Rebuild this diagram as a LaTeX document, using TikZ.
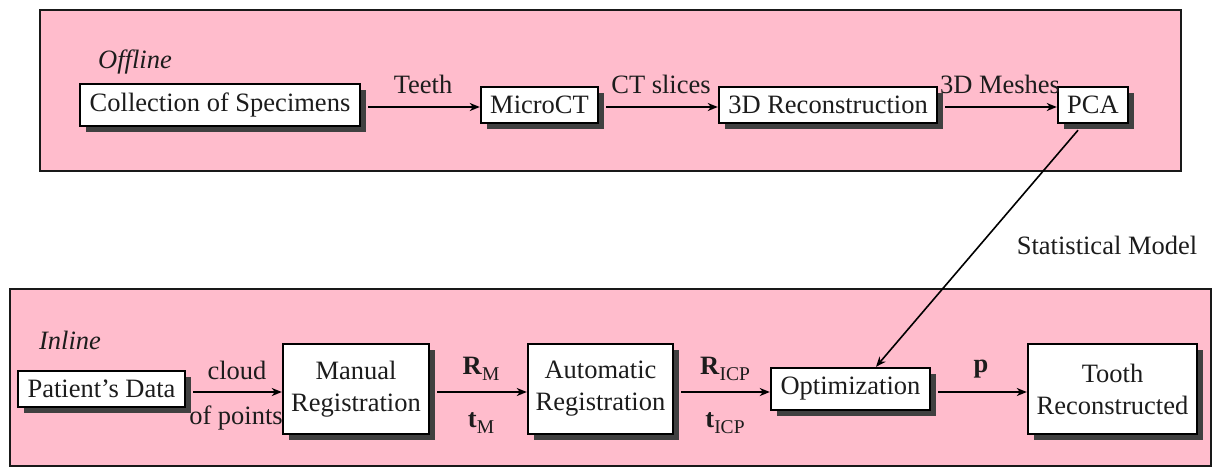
\documentclass[tikz,border=0pt]{standalone}
\usepackage{fontspec}
\setmainfont{Liberation Serif}
\usetikzlibrary{shadows,arrows.meta}
\definecolor{panelpink}{RGB}{255,188,204}
\definecolor{txt}{RGB}{28,28,28}
\newcommand{\mysub}[1]{\raisebox{-0.22em}{\fontsize{19.5}{20}\selectfont #1}}
\begin{document}
\begin{tikzpicture}[x=1pt,y=-1pt,
  font=\fontsize{26.5}{32}\selectfont, text=txt,
  panel/.style={draw=black!90, line width=1.8pt, fill=panelpink},
  box/.style={draw=black, line width=2.4pt, fill=white, inner sep=0pt, align=center,
    drop shadow={shadow xshift=6pt, shadow yshift=-6pt, fill=black!75, opacity=1}},
  arr/.style={draw=black, line width=1.6pt, -{Stealth[length=10pt,width=8pt,inset=3pt]}},
  lab/.style={inner sep=0pt}]
\useasboundingbox (0,0) rectangle (1217,475);
% panels
\draw[panel] (40,10) rectangle (1181,171);
\draw[panel] (10,289) rectangle (1211,466);
% top nodes
\node[box, minimum width=280pt, minimum height=42pt] (coll) at (220,105) {Collection of Specimens};
\node[box, minimum width=117pt, minimum height=36pt] (micro) at (539.5,105) {MicroCT};
\node[box, minimum width=218pt, minimum height=36pt] (recon) at (828,105) {3D Reconstruction};
\node[box, minimum width=70pt, minimum height=36pt] (pca) at (1093,105) {PCA};
% bottom nodes
\node[box, minimum width=167pt, minimum height=36pt] (pat) at (101.5,389) {Patient's Data};
\node[box, minimum width=146pt, minimum height=90pt] (man) at (356,389) {Manual\\Registration};
\node[box, minimum width=145pt, minimum height=90pt] (auto) at (600.5,389) {Automatic\\Registration};
\node[box, minimum width=159pt, minimum height=42pt] (opt) at (850.5,389) {Optimization};
\node[box, minimum width=169pt, minimum height=90pt] (tooth) at (1112.5,389) {Tooth\\Reconstructed};
% labels
\node[lab] (offl) at (135,62) {\itshape Offline};
\node[lab] (teeth) at (423,84) {Teeth};
\node[lab] (cts) at (661,84) {CT slices};
\node[lab] (mesh) at (1000,84) {3D Meshes};
\node[lab] (stat) at (1107,245) {Statistical Model};
\node[lab] (inl) at (70,340) {\itshape Inline};
\node[lab] (cloud) at (237,370) {cloud};
\node[lab] (ofp) at (236,418) {of points};
\node[lab] (rm) at (481,369) {\textbf{R}\mysub{M}};
\node[lab] (tm) at (481,423) {\textbf{t}\mysub{M}};
\node[lab] (ricp) at (725,369) {\textbf{R}\mysub{ICP}};
\node[lab] (ticp) at (725,423) {\textbf{t}\mysub{ICP}};
\node[lab] (pl) at (981,369) {\textbf{p}};
% arrows
\draw[arr] ([shift={(7pt,-2pt)}]coll.east) -- ([yshift=-2pt]micro.west);
\draw[arr] ([shift={(7pt,-2pt)}]micro.east) -- ([yshift=-2pt]recon.west);
\draw[arr] ([shift={(7pt,-2pt)}]recon.east) -- ([yshift=-2pt]pca.west);
\draw[arr] ([shift={(7pt,-3pt)}]pat.east) -- ([yshift=-3pt]man.west);
\draw[arr] ([shift={(7pt,-3pt)}]man.east) -- ([yshift=-3pt]auto.west);
\draw[arr] ([shift={(7pt,-3pt)}]auto.east) -- ([yshift=-3pt]opt.west);
\draw[arr] ([shift={(7pt,-3pt)}]opt.east) -- ([yshift=-3pt]tooth.west);
\draw[arr] ([shift={(-15pt,-6pt)}]pca.south) -- ([xshift=25.5pt]opt.north);
\end{tikzpicture}
\end{document}
